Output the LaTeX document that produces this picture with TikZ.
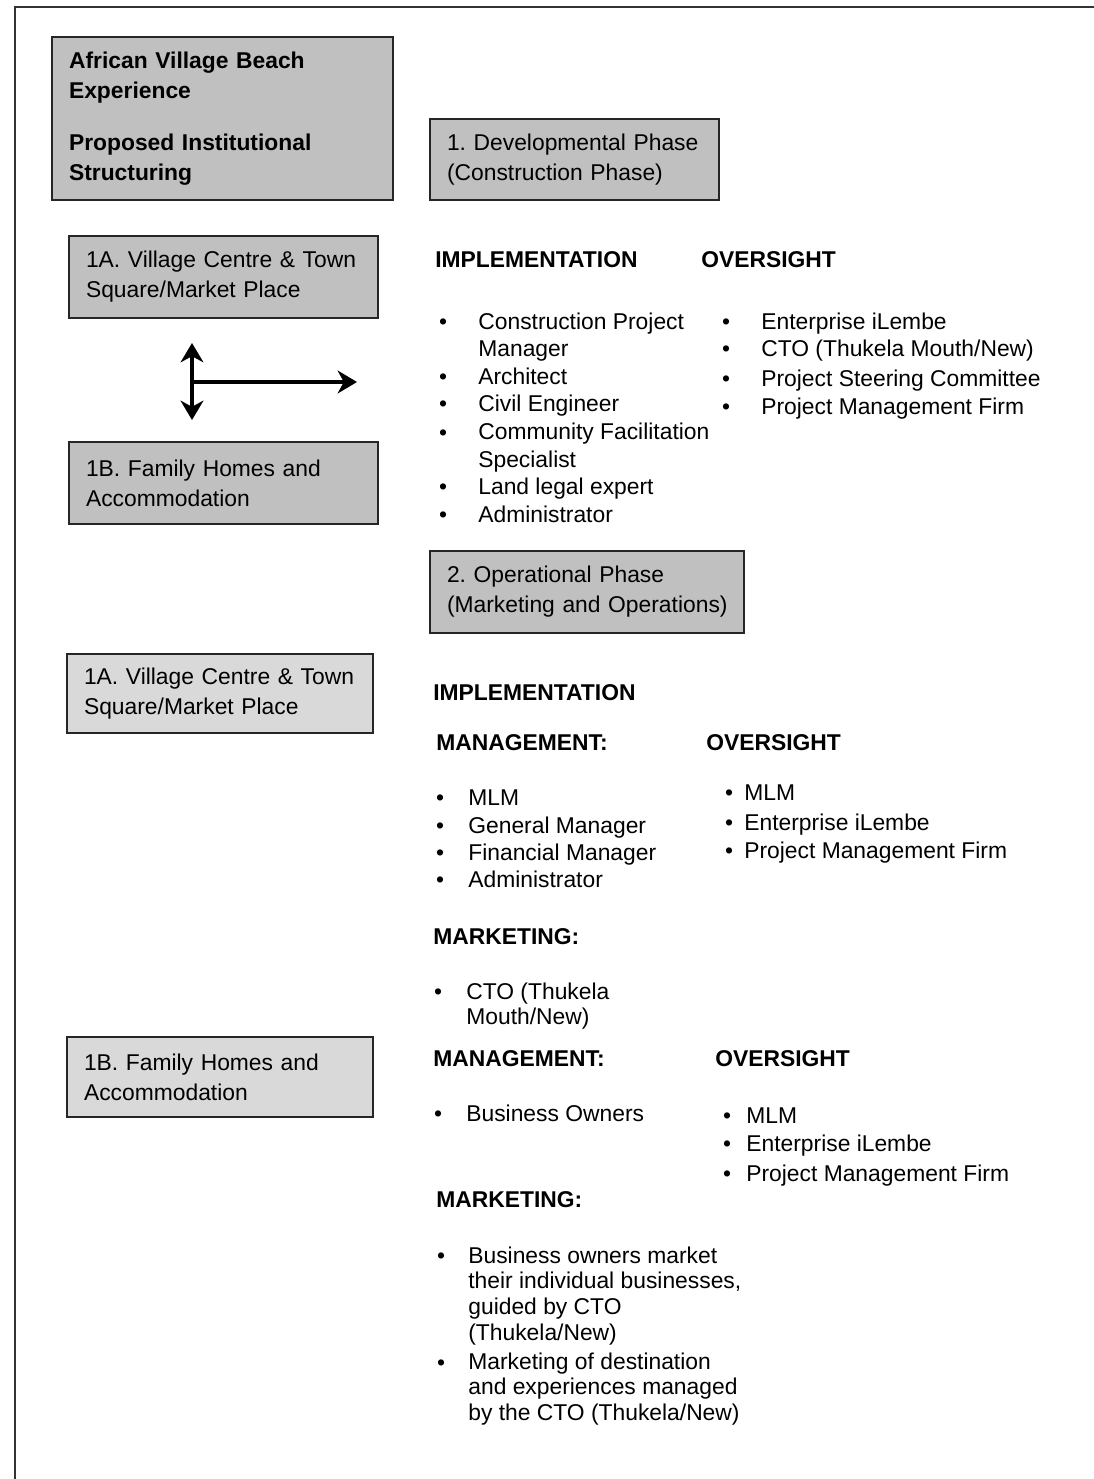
\documentclass[tikz,border=0pt]{standalone}
\usepackage{fontspec}
\setmainfont{Liberation Sans}
\usetikzlibrary{arrows.meta}

\definecolor{boxdark}{HTML}{C0C0C0}
\definecolor{boxlight}{HTML}{D9D9D9}
\frenchspacing

\begin{document}
\begin{tikzpicture}[
    x=0.02cm, y=-0.02cm,
    >={Stealth[length=11pt,width=13pt,inset=3.5pt]},
    every node/.style={font=\fontsize{13pt}{15.6pt}\selectfont},
    frame/.style={line width=1pt, black!80},
    darkbox/.style={draw=black!85, line width=1.1pt, fill=boxdark, inner xsep=0.34cm,
        inner ysep=0pt, align=left, font=\fontsize{13pt}{17pt}\selectfont},
    lightbox/.style={darkbox, fill=boxlight},
    head/.style={anchor=base west, inner sep=0pt, font=\bfseries\fontsize{13pt}{15.6pt}\selectfont},
    entry/.style={anchor=base west, inner sep=0pt, align=left},
    dot/.style={anchor=base, inner sep=0pt},
    link/.style={line width=2pt}
]
\useasboundingbox (0,0) rectangle (1094,1479);

% Page frame
\draw[frame] (15,1479) -- (15,7) -- (1094,7);

% Boxes
\node[darkbox, minimum width=6.82cm, minimum height=3.26cm, text width=6.14cm,
      font=\bfseries\fontsize{13pt}{17pt}\selectfont] (title) at (222.5,118.5)
    {African Village Beach\\Experience\\[12.5pt]Proposed Institutional\\Structuring};
\node[darkbox, minimum width=5.78cm, minimum height=1.62cm, text width=5.1cm] (devphase) at (574.5,159.5)
    {\mbox{1. Developmental Phase}\\\mbox{(Construction Phase)}};
\node[darkbox, minimum width=6.18cm, minimum height=1.64cm, text width=5.5cm] (villageA) at (223.5,277)
    {\mbox{1A. Village Centre \& Town}\\Square/Market Place};
\node[darkbox, minimum width=6.18cm, minimum height=1.64cm, text width=5.5cm] (homesA) at (223.5,483)
    {1B. Family Homes and\\Accommodation};
\node[darkbox, minimum width=6.28cm, minimum height=1.64cm, text width=5.6cm] (opphase) at (587,592)
    {\mbox{2. Operational Phase}\\\mbox{(Marketing and Operations)}};
\node[lightbox, minimum width=6.12cm, minimum height=1.58cm, text width=5.44cm] (villageB) at (220,693.5)
    {\mbox{1A. Village Centre \& Town}\\Square/Market Place};
\node[lightbox, minimum width=6.12cm, minimum height=1.6cm, text width=5.44cm] (homesB) at (220,1077)
    {1B. Family Homes and\\Accommodation};

% Arrows between the first pair of boxes
\coordinate (up) at (192,343);
\coordinate (down) at (192,420);
\coordinate (mid) at (192,382);
\coordinate (right) at (357,382);
\draw[link, <->] (up) -- (down);
\draw[link, ->] (mid) -- (right);

% Phase 1 lists (multi-line entries sit on their last baseline)
\node[head] (impl1) at (435,268) {IMPLEMENTATION};
\node[head] (over1) at (701,268) {OVERSIGHT};

\foreach \y/\n in {330/a, 385/b, 412/c, 440/d, 495/e, 522/f}
    \node[dot] (ib1\n) at (443,\y) {\textbullet};
\node[entry, font=\fontsize{13pt}{15.4pt}\selectfont] (i1a) at (478,357) {Construction Project\\Manager};
\node[entry] (i1b) at (478,385) {Architect};
\node[entry] (i1c) at (478,412) {Civil Engineer};
\node[entry, font=\fontsize{13pt}{15.4pt}\selectfont] (i1d) at (478,467) {Community Facilitation\\Specialist};
\node[entry] (i1e) at (478,495) {Land legal expert};
\node[entry] (i1f) at (478,522) {Administrator};

\foreach \y/\n in {330/a, 357/b, 387/c, 415/d}
    \node[dot] (ob1\n) at (726,\y) {\textbullet};
\node[entry] (o1a) at (761,330) {Enterprise iLembe};
\node[entry] (o1b) at (761,357) {CTO (Thukela Mouth/New)};
\node[entry] (o1c) at (761,387) {Project Steering Committee};
\node[entry] (o1d) at (761,415) {Project Management Firm};

% Phase 2, village centre
\node[head] (impl2) at (433,700) {IMPLEMENTATION};
\node[head] (mgmt2) at (436,750) {MANAGEMENT:};
\node[head] (over2) at (706,750) {OVERSIGHT};

\foreach \y/\n in {805/a, 833/b, 860/c, 887/d}
    \node[dot] (mb2\n) at (440,\y) {\textbullet};
\node[entry] (m2a) at (468,805) {MLM};
\node[entry] (m2b) at (468,833) {General Manager};
\node[entry] (m2c) at (468,860) {Financial Manager};
\node[entry] (m2d) at (468,887) {Administrator};

\foreach \y/\n in {800/a, 830/b, 858/c}
    \node[dot] (ob2\n) at (729,\y) {\textbullet};
\node[entry] (o2a) at (744,800) {MLM};
\node[entry] (o2b) at (744,830) {Enterprise iLembe};
\node[entry] (o2c) at (744,858) {Project Management Firm};

\node[head] (mkt2) at (433,944) {MARKETING:};
\node[dot] (kb2) at (438,999) {\textbullet};
\node[entry, font=\fontsize{13pt}{14.2pt}\selectfont] (k2) at (466,1024) {CTO (Thukela\\Mouth/New)};

% Phase 2, family homes
\node[head] (mgmt3) at (433,1066) {MANAGEMENT:};
\node[head] (over3) at (715,1066) {OVERSIGHT};

\node[dot] (mb3) at (438,1121) {\textbullet};
\node[entry] (m3) at (466,1121) {Business Owners};

\foreach \y/\n in {1123/a, 1151/b, 1181/c}
    \node[dot] (ob3\n) at (727,\y) {\textbullet};
\node[entry] (o3a) at (746,1123) {MLM};
\node[entry] (o3b) at (746,1151) {Enterprise iLembe};
\node[entry] (o3c) at (746,1181) {Project Management Firm};

\node[head] (mkt3) at (436,1207) {MARKETING:};
\node[dot] (kb3a) at (441,1263) {\textbullet};
\node[entry, font=\fontsize{13pt}{14.6pt}\selectfont] (k3a) at (468,1340)
    {Business owners market\\their individual businesses,\\guided by CTO\\(Thukela/New)};
\node[dot] (kb3b) at (441,1370) {\textbullet};
\node[entry, font=\fontsize{13pt}{14.3pt}\selectfont] (k3b) at (468,1420)
    {Marketing of destination\\and experiences managed\\by the CTO (Thukela/New)};

\end{tikzpicture}
\end{document}
